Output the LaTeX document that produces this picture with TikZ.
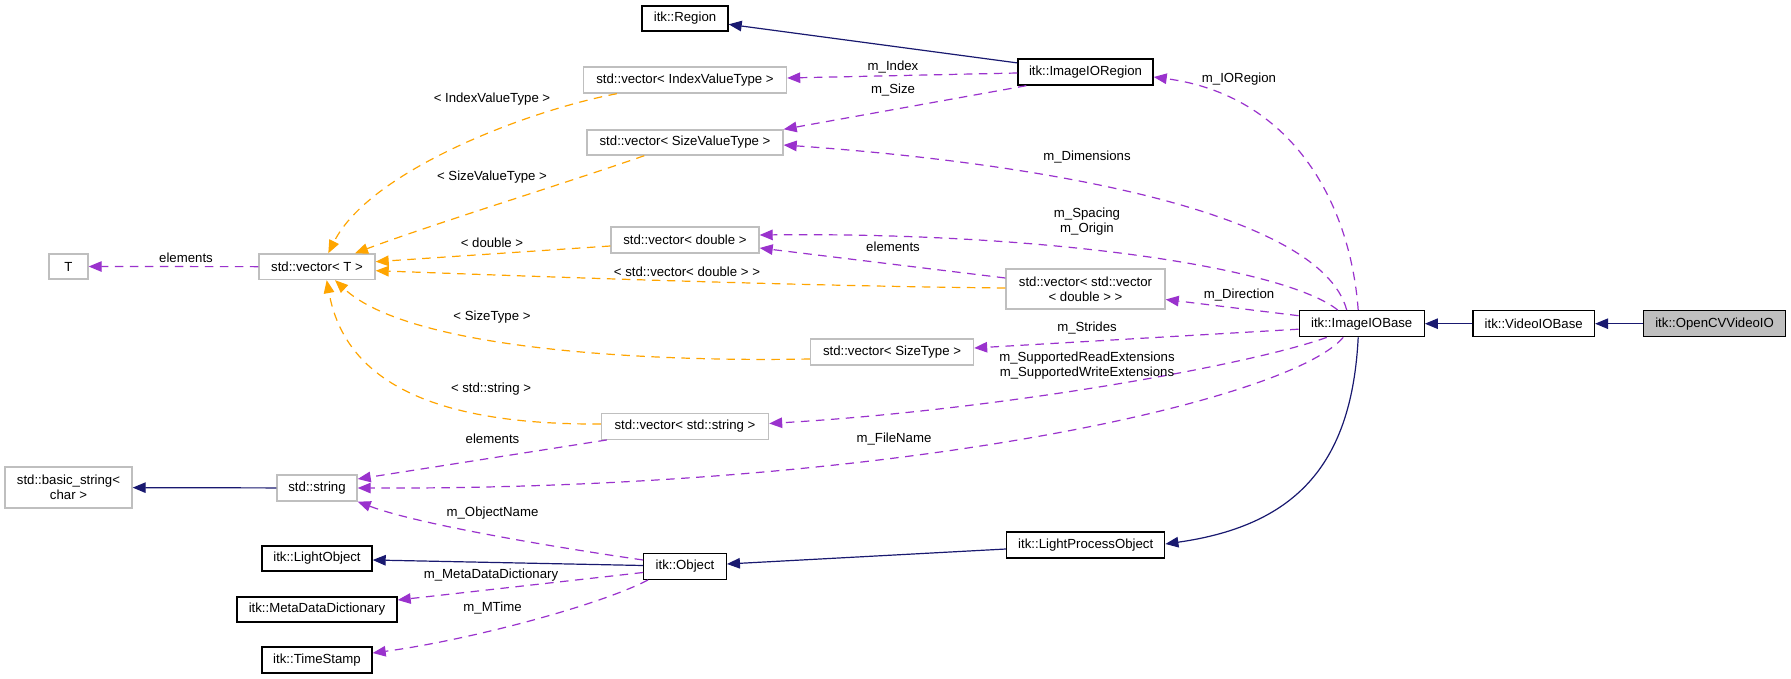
\documentclass[tikz,border=0pt]{standalone}
\usepackage{fontspec}
\setmainfont{Liberation Sans}
\usetikzlibrary{arrows.meta,calc}
\definecolor{navyc}{HTML}{191970}
\definecolor{purp}{HTML}{9A32CD}
\definecolor{orng}{HTML}{FFA500}
\definecolor{boxgray}{HTML}{BFBFBF}
\begin{document}
\begin{tikzpicture}[x=1pt,y=-1pt,
  every node/.style={font=\fontsize{13.2}{15}\selectfont, inner sep=0pt},
  itkbox/.style={draw=black, line width=1.4pt, fill=white, align=center},
  stdbox/.style={draw=boxgray, line width=1.4pt, fill=white, align=center},
  lbl/.style={align=center},
  inh/.style={draw=navyc, line width=1.2pt, -{Triangle[length=13pt,width=10.5pt]}},
  use/.style={draw=purp, line width=1.2pt, dash pattern=on 8.5pt off 6.5pt, -{Triangle[length=13pt,width=10.5pt]}},
  tpl/.style={draw=orng, line width=1.2pt, dash pattern=on 8.5pt off 6.5pt, -{Triangle[length=13pt,width=10.5pt]}},
]
\useasboundingbox[fill=white] (0,0) rectangle (1791,679);

% nodes
\node[itkbox, minimum width=86pt, minimum height=25pt] (Region) at (685,18.5) {itk::Region};
\node[stdbox, minimum width=203pt, minimum height=26pt] (vIVT) at (685,80) {std::vector< IndexValueType >};
\node[itkbox, minimum width=135pt, minimum height=26pt] (IR) at (1085.5,72) {itk::ImageIORegion};
\node[stdbox, minimum width=196pt, minimum height=25pt] (vSVT) at (685,142.5) {std::vector< SizeValueType >};
\node[stdbox, minimum width=148pt, minimum height=26pt] (vD) at (685,240) {std::vector< double >};
\node[stdbox, minimum width=159pt, minimum height=40pt] (vVD) at (1085.5,289) {std::vector< std::vector\\< double > >};
\node[stdbox, minimum width=116pt, minimum height=25.5pt] (vT) at (317,266.7) {std::vector< T >};
\node[stdbox, minimum width=39pt, minimum height=25pt] (T) at (68.5,266.5) {T};
\node[itkbox, minimum width=125pt, minimum height=26pt] (IOB) at (1361.7,323.7) {itk::ImageIOBase};
\node[itkbox, minimum width=121.4pt, minimum height=26pt] (VIOB) at (1533.7,323.7) {itk::VideoIOBase};
\node[itkbox, fill=boxgray, minimum width=142pt, minimum height=26pt] (OCV) at (1714.6,323.7) {itk::OpenCVVideoIO};
\node[stdbox, minimum width=163pt, minimum height=26pt] (vST) at (892,352) {std::vector< SizeType >};
\node[stdbox, minimum width=167pt, minimum height=25.5pt] (vS) at (685,426.5) {std::vector< std::string >};
\node[stdbox, minimum width=127pt, minimum height=41pt] (bstr) at (68.5,487.5) {std::basic\_string<\\char >};
\node[stdbox, minimum width=80pt, minimum height=26pt] (str) at (317,488) {std::string};
\node[itkbox, minimum width=110pt, minimum height=25pt] (LO) at (317,558.5) {itk::LightObject};
\node[itkbox, minimum width=160pt, minimum height=25pt] (MDD) at (317,609.5) {itk::MetaDataDictionary};
\node[itkbox, minimum width=110pt, minimum height=26pt] (TS) at (317,660) {itk::TimeStamp};
\node[itkbox, minimum width=82.5pt, minimum height=25.6pt] (Obj) at (685,566.5) {itk::Object};
\node[itkbox, minimum width=158pt, minimum height=26pt] (LPO) at (1085.7,545) {itk::LightProcessObject};

% inheritance edges
\draw[inh] (IR) -- (Region);
\draw[inh] (VIOB) -- (IOB);
\draw[inh] (OCV) -- (VIOB);
\draw[inh] ($(IOB.south)+(-3.5,0)$) .. controls (1352,460) and (1300,525) .. ($(LPO.east)+(0,-1)$);
\draw[inh] ($(LPO.west)+(0,4)$) -- ($(Obj.east)+(0,-2.5)$);
\draw[inh] ($(Obj.west)+(0,-1)$) -- ($(LO.east)+(0,1.5)$);
\draw[inh] (str) -- (bstr);

% usage edges
\draw[use] ($(IR.west)+(0,1)$) -- ($(vIVT.east)+(0,-2)$);
\draw[use] ($(IR.south west)+(9,0)$) -- (vSVT.north east);
\draw[use] ($(IOB.north)+(-3.5,0)$) .. controls (1350,200) and (1290,95) .. ($(IR.east)+(0,5)$);
\draw[use] ($(IOB.north)+(-15,0)$) .. controls (1320,210) and (1033,162.5) .. ($(vSVT.east)+(0,2.5)$);
\draw[use] ($(IOB.north)+(-24,0)$) .. controls (1285,268) and (1050,232) .. ($(vD.east)+(0,-5)$);
\draw[use] ($(vVD.west)+(0,-11)$) -- ($(vD.east)+(0,8)$);
\draw[use] ($(IOB.west)+(0,-8)$) -- ($(vVD.east)+(0,10.5)$);
\draw[use] ($(IOB.west)+(0,5.5)$) -- ($(vST.east)+(0,-4)$);
\draw[use] ($(IOB.south)+(-35,0)$) .. controls (1250,365) and (1000,410) .. ($(vS.east)+(0,-3)$);
\draw[use] ($(IOB.south)+(-18.5,0)$) .. controls (1290,400) and (900,490) .. (str.east);
\draw[use] ($(Obj.west)+(0,-6.5)$) .. controls (560,548) and (420,525) .. (str.south east);
\draw[use] ($(Obj.west)+(0,6)$) -- ($(MDD.east)+(0,-9.5)$);
\draw[use] ($(Obj.south west)+(5,0)$) .. controls (600,605) and (470,640) .. ($(TS.east)+(0,-7)$);
\draw[use] ($(vS.south west)+(6,0)$) -- ($(str.east)+(0,-9)$);
\draw[use] (vT) -- (T);

% template edges
\draw[tpl] ($(vIVT.south west)+(34,0)$) .. controls (530,110) and (370,170) .. ($(vT.north)+(11.3,0)$);
\draw[tpl] ($(vSVT.south west)+(58,0)$) .. controls (560,185) and (430,225) .. ($(vT.north)+(38,0)$);
\draw[tpl] ($(vD.west)+(0,6)$) -- ($(vT.east)+(0,-5)$);
\draw[tpl] ($(vVD.west)+(0,-1)$) .. controls (800,286) and (550,277) .. ($(vT.east)+(0,4)$);
\draw[tpl] ($(vST.west)+(0,7)$) .. controls (650,362) and (410,350) .. ($(vT.south)+(18,0)$);
\draw[tpl] ($(vS.west)+(0,-2.5)$) .. controls (430,425) and (345,380) .. ($(vT.south)+(9.7,0)$);

% labels
\node[lbl] (lT) at (186,258) {elements};
\node[lbl] (lIVT) at (492,99) {< IndexValueType >};
\node[lbl] (lSVT) at (492,177) {< SizeValueType >};
\node[lbl] (lD) at (492,243) {< double >};
\node[lbl] (lVD) at (687,272) {< std::vector< double > >};
\node[lbl] (lST) at (492,317) {< SizeType >};
\node[lbl] (lS) at (491,389) {< std::string >};
\node[lbl] (lSel) at (492.5,439) {elements};
\node[lbl] (lON) at (492.5,513) {m\_ObjectName};
\node[lbl] (lMDD) at (491,575) {m\_MetaDataDictionary};
\node[lbl] (lMT) at (492.5,608) {m\_MTime};
\node[lbl] (lIdx) at (893,67) {m\_Index};
\node[lbl] (lSz) at (893,90) {m\_Size};
\node[lbl] (lDim) at (1087,157) {m\_Dimensions};
\node[lbl] (lSp) at (1087,221.5) {m\_Spacing\\m\_Origin};
\node[lbl] (lVel) at (893,247) {elements};
\node[lbl] (lStr) at (1087,328) {m\_Strides};
\node[lbl] (lIOR) at (1239,79) {m\_IORegion};
\node[lbl] (lDir) at (1239,295) {m\_Direction};
\node[lbl] (lExt) at (1087,366) {m\_SupportedReadExtensions\\m\_SupportedWriteExtensions};
\node[lbl] (lFN) at (894,439) {m\_FileName};
\end{tikzpicture}
\end{document}
